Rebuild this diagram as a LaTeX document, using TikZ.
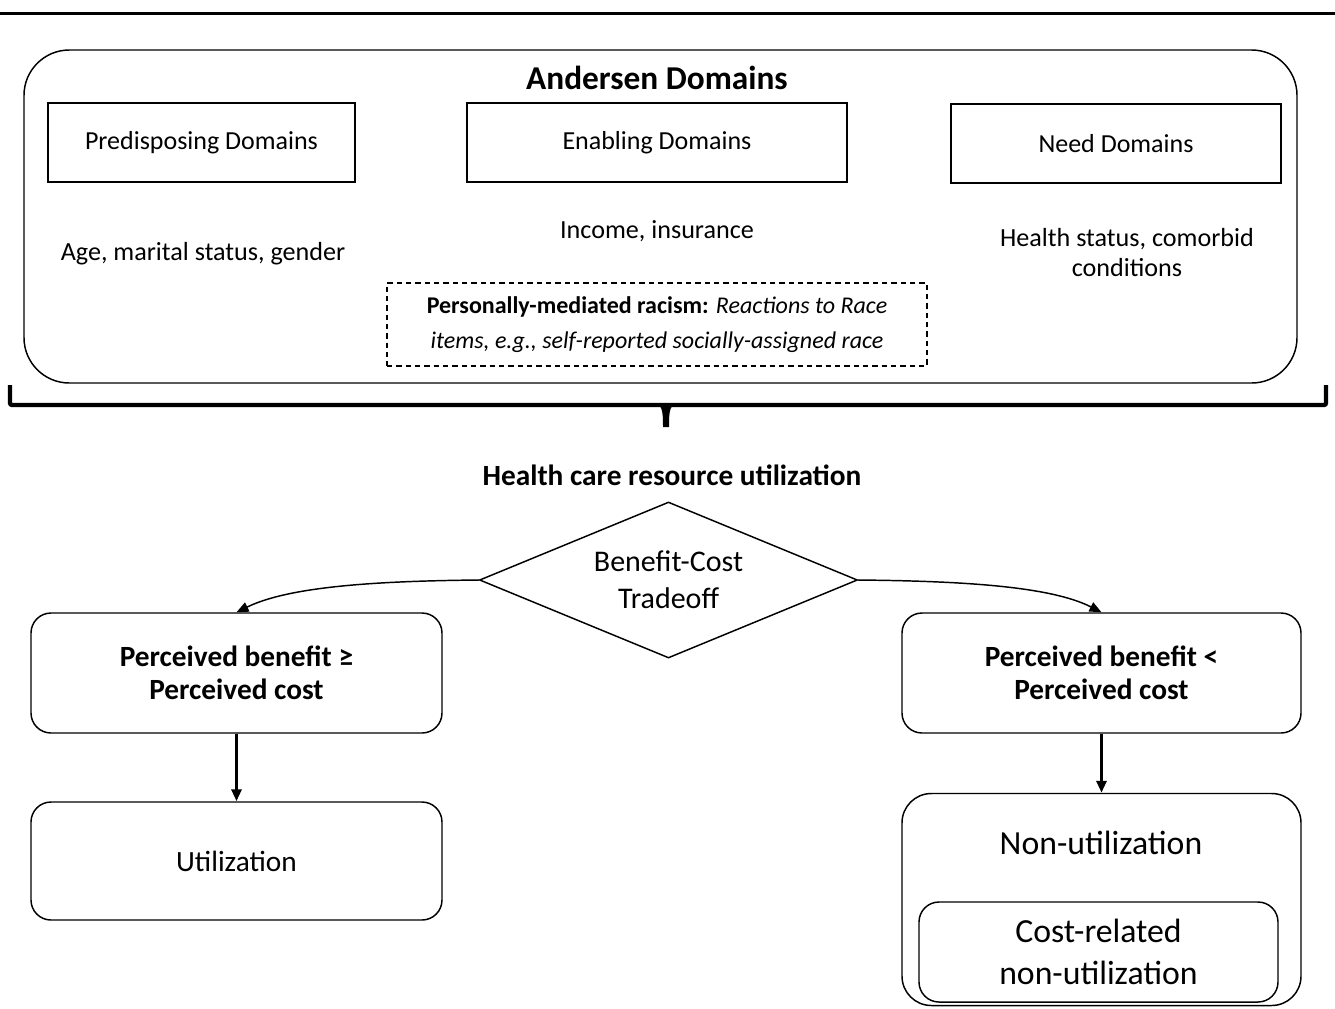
\documentclass[tikz,border=0pt]{standalone}
\usepackage{fontspec}
\setmainfont{Carlito}
\usetikzlibrary{shapes.geometric,arrows.meta}
\tikzset{every picture/.style={line width=1.1pt}}

\begin{document}
\begin{tikzpicture}[x=0.75pt,y=0.75pt,yscale=-1,xscale=1,
  domainbox/.style={draw, minimum height=59.25pt, inner sep=0pt, font=\fontsize{19.5}{23}\selectfont},
  roundbox/.style={draw, rounded corners=15pt, minimum width=308.25pt, minimum height=90pt, align=center, inner sep=0pt},
  plaintext/.style={inner sep=0.75pt, align=center, font=\fontsize{19.6}{22.5}\selectfont},
  arr/.style={-{Triangle[length=9pt,width=7.5pt]}, line width=1.1pt}]
\useasboundingbox (0,0) rectangle (1335,1008);

%Straight Lines: top rule
\draw [line width=2.7pt] (0,13.5) -- (1335,13.5) ;
%Shape: Rounded Rect (Andersen)
\draw [rounded corners=34pt] (24,50) rectangle (1297,383) ;

% Text Node
\node (title) [plaintext, font=\fontsize{25}{30}\selectfont\bfseries] at (657,78) {Andersen Domains};
%Shape: Rectangle
\node (predis) [domainbox, minimum width=230.25pt] at (201.5,142.5) {Predisposing Domains};
%Shape: Rectangle
\node (enabl) [domainbox, minimum width=285pt] at (657,142.5) {Enabling Domains};
%Shape: Rectangle
\node (need) [domainbox, minimum width=247.5pt] at (1116,143.5) {Need Domains};
% Text Node
\node (predistxt) [plaintext] at (203,254) {Age, marital status, gender};
% Text Node
\node (enabltxt) [plaintext] at (657,231) {Income, insurance};
% Text Node
\node (needtxt) [plaintext] at (1127,253) {Health status, comorbid\\conditions};
%Shape: Dashed Rect
\node (racism) [draw, line width=0.9pt, dash pattern=on 4pt off 3pt, minimum width=405pt, minimum height=62.25pt, inner sep=0pt, plaintext, font=\fontsize{18}{26}\selectfont] at (657,324.5)
  {\textbf{Personally-mediated racism:} \textit{Reactions to Race}\\\textit{items, e.g., self-reported socially-assigned race}};

%Shape: Brace
\draw [line width=3.2pt, rounded corners=1.5pt] (10,385) -- (10,405) -- (1326,405) -- (1326,385) ;
\fill (654,404) .. controls (662,405) and (663,409) .. (663,427) -- (669,427) .. controls (669,409) and (670,405) .. (678,404) -- cycle ;

% Text Node
\node (hcru) [plaintext, font=\fontsize{22}{26}\selectfont\bfseries] at (672,475) {Health care resource utilization};
%Shape: Diamond
\node (trade) [draw, diamond, aspect=2.42, minimum width=283.5pt, minimum height=117pt, inner sep=0pt, align=center, font=\fontsize{22.5}{28}\selectfont] at (668.5,580) {Benefit-Cost\\Tradeoff};

%Shape: Rounded Rect
\node (gain) [roundbox, font=\fontsize{22}{25}\selectfont\bfseries] at (236.5,673) {Perceived benefit ≥\\Perceived cost};
%Shape: Rounded Rect
\node (loss) [roundbox, minimum width=299.25pt, font=\fontsize{22}{25}\selectfont\bfseries] at (1101.5,673) {Perceived benefit <\\Perceived cost};
%Shape: Rounded Rect
\node (use) [roundbox, minimum height=88.5pt, font=\fontsize{22}{26}\selectfont] at (236.5,861) {Utilization};
%Shape: Rounded Rect (outer)
\node (nonuse) [roundbox, rounded corners=22pt, minimum width=299.25pt, minimum height=159pt] at (1101.5,899.5) {};
% Text Node
\node (nonusetxt) [plaintext, font=\fontsize{25.3}{30}\selectfont] at (1101,843) {Non-utilization};
%Shape: Rounded Rect (inner)
\node (costnon) [roundbox, minimum width=269.25pt, minimum height=75pt, font=\fontsize{25.3}{31.5}\selectfont] at (1098.5,952) {Cost-related\\non-utilization};

%Curve Lines
\draw [arr] (trade.west) .. controls (380,581) and (290,586) .. (gain.north) ;
%Curve Lines
\draw [arr] (trade.east) .. controls (960,581) and (1050,586) .. (loss.north) ;
%Straight Lines
\draw [arr, line width=2.6pt] (gain) -- (use) ;
%Straight Lines
\draw [arr, line width=2.6pt] (loss) -- (nonuse) ;

\end{tikzpicture}
\end{document}
